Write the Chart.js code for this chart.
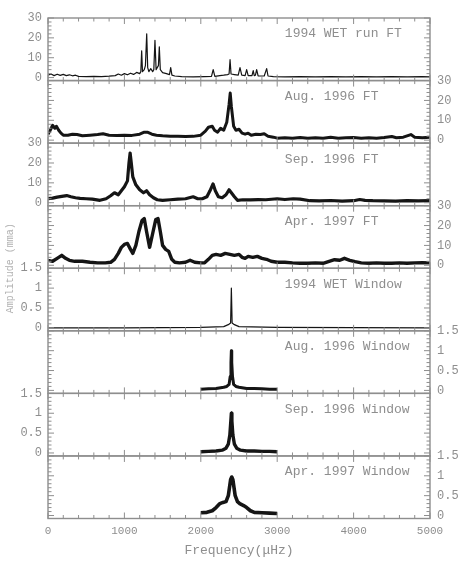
<!DOCTYPE html>
<html><head><meta charset="utf-8">
<script src="https://cdn.jsdelivr.net/npm/chart.js@4.4.1/dist/chart.umd.min.js"></script>
<style>html,body{margin:0;padding:0;background:#fff;}canvas{display:block}</style>
</head><body>
<canvas id="c" width="459" height="561"></canvas>
<script>
// ---------- tick labels / categories ----------
const xTicks = [0, 1000, 2000, 3000, 4000, 5000];
const ftTicks = [0, 10, 20, 30];
const winTicks = [0, 0.5, 1, 1.5];
const panelNames = ['1994 WET run FT', 'Aug. 1996 FT', 'Sep. 1996 FT', 'Apr. 1997 FT',
  '1994 WET Window', 'Aug. 1996 Window', 'Sep. 1996 Window', 'Apr. 1997 Window'];

// ---------- series (frequency in µHz, amplitude) ----------
const wetFtFreq = [0,40,80,120,160,200,240,280,320,360,400,500,600,700,800,880,920,960,1000,1040,1080,1120,1160,1200,1215,1226,1237,1260,1275,1292,1305,1320,1345,1370,1385,1400,1415,1430,1445,1457,1470,1500,1550,1590,1606,1622,1660,1750,1900,2050,2140,2162,2184,2250,2300,2350,2370,2383,2396,2440,2490,2513,2536,2580,2600,2620,2670,2686,2700,2715,2731,2750,2830,2862,2880,2950,3100,3300,3500,3700,3900,4100,4300,4500,4700,4900,5000];
const wetFtAmp  = [1.2,1.8,1.0,1.7,1.1,1.6,1.0,1.4,0.9,1.2,0.6,0.5,0.6,0.5,0.7,1.0,1.8,1.2,2.0,1.4,2.2,1.6,2.6,2.0,3.0,13.5,3.0,4.0,6.0,22.0,5.0,3.0,4.5,3.0,4.0,18.8,4.0,5.0,6.0,15.5,4.0,2.5,2.0,1.5,5.0,1.2,0.8,0.5,0.4,0.5,0.6,4.0,0.6,1.0,1.2,1.5,1.8,9.0,1.8,1.5,1.2,5.0,1.2,1.0,4.0,1.0,1.0,3.5,1.0,1.2,4.0,0.9,0.8,4.5,0.8,0.5,0.4,0.5,0.4,0.5,0.4,0.5,0.4,0.5,0.4,0.5,0.4];

const aug96FtFreq = [0,30,60,90,110,140,170,200,260,320,380,450,550,650,720,800,900,1000,1100,1200,1260,1300,1360,1420,1500,1600,1700,1800,1900,2000,2060,2100,2150,2180,2220,2260,2300,2340,2370,2385,2400,2430,2460,2500,2540,2580,2620,2660,2720,2780,2830,2880,2950,3000,3100,3200,3300,3400,3500,3600,3700,3800,3900,4000,4100,4200,4300,4400,4500,4560,4650,4750,4800,4900,5000];
const aug96FtAmp  = [3.0,5.0,7.5,6.0,7.0,5.0,3.5,2.5,2.5,3.0,2.8,2.2,2.5,2.8,3.2,2.5,2.3,2.5,2.4,3.0,4.0,4.0,3.0,2.5,2.2,2.0,2.0,1.8,1.9,2.5,4.5,6.5,7.0,5.0,4.0,6.0,5.0,9.0,18.0,23.7,17.0,7.0,5.0,5.5,3.5,3.0,3.5,2.5,3.0,2.8,3.2,2.0,1.5,1.0,1.2,1.0,1.3,1.0,1.2,1.0,1.4,1.0,1.2,1.3,1.0,1.2,1.0,1.3,1.8,1.2,1.5,2.8,1.5,1.2,1.5];

const sep96FtFreq = [0,60,120,180,245,300,360,420,500,580,680,760,820,870,920,960,1000,1040,1060,1075,1090,1110,1150,1200,1250,1290,1330,1380,1430,1500,1600,1700,1800,1900,1960,2020,2080,2120,2160,2190,2230,2280,2330,2370,2400,2440,2480,2550,2650,2750,2850,3000,3100,3210,3300,3430,3550,3700,3850,4000,4080,4150,4250,4400,4550,4700,4850,5000];
const sep96FtAmp  = [2.0,2.3,2.8,3.2,3.6,3.0,2.5,2.2,2.0,1.8,1.2,2.0,3.5,5.0,4.0,6.0,8.0,11.0,20.0,25.0,20.0,13.0,9.0,6.5,5.0,6.0,4.0,2.5,1.5,1.2,1.5,1.8,2.0,3.0,2.0,2.0,3.0,6.0,9.5,6.0,3.0,2.5,4.0,6.5,5.0,3.0,1.2,1.5,1.4,1.6,1.5,2.0,1.6,2.0,1.8,1.0,0.9,1.1,0.8,1.0,1.6,1.2,1.0,0.9,0.8,1.0,0.9,1.0];

const apr97FtFreq = [0,60,120,180,230,280,350,450,550,650,750,820,870,920,960,1000,1040,1080,1110,1150,1190,1230,1260,1290,1330,1370,1410,1440,1470,1500,1540,1580,1620,1660,1720,1800,1860,1920,2000,2050,2100,2150,2200,2260,2320,2380,2440,2500,2540,2580,2620,2680,2740,2800,2860,2920,3000,3100,3200,3300,3400,3500,3600,3680,3750,3820,3880,3950,4020,4100,4200,4300,4400,4500,4600,4700,4800,4900,5000];
const apr97FtAmp  = [2.5,2.0,3.5,5.0,3.5,2.5,2.0,2.0,1.5,1.2,1.2,1.5,3.0,6.0,9.0,10.5,11.0,8.0,6.0,10.0,17.0,22.5,23.5,17.0,9.0,16.0,23.0,23.5,17.0,10.0,8.0,7.0,3.0,1.5,1.2,1.5,2.5,1.5,1.2,1.3,3.0,5.0,5.5,5.0,6.0,5.5,5.0,5.5,4.0,3.5,4.5,4.0,4.5,3.5,3.0,2.0,1.5,1.5,1.2,1.0,1.0,1.2,1.0,2.0,2.8,2.5,3.5,2.5,1.8,1.2,1.0,1.2,1.0,1.0,1.2,1.0,1.2,1.3,1.2];

const wetWinFreq = [0,1000,2000,2300,2360,2390,2400,2410,2440,2500,3000,5000];
const wetWinAmp  = [0,0,0.01,0.03,0.08,0.12,1.0,0.12,0.08,0.03,0.01,0];

const aug96WinFreq = [2000,2100,2200,2300,2340,2370,2385,2395,2400,2405,2415,2430,2460,2500,2600,2700,2800,2900,3000];
const aug96WinAmp  = [0.03,0.04,0.05,0.08,0.1,0.15,0.35,0.7,1.0,0.7,0.35,0.15,0.1,0.08,0.05,0.05,0.04,0.03,0.03];

const sep96WinFreq = [2000,2100,2200,2280,2330,2360,2380,2393,2400,2407,2420,2440,2470,2520,2600,2700,2800,2900,3000];
const sep96WinAmp  = [0.03,0.04,0.05,0.07,0.12,0.22,0.45,0.8,1.0,0.8,0.45,0.22,0.12,0.07,0.05,0.05,0.04,0.04,0.03];

const apr97WinFreq = [2000,2080,2150,2200,2250,2290,2330,2360,2390,2405,2420,2450,2480,2510,2560,2600,2650,2700,2800,2900,3000];
const apr97WinAmp  = [0.07,0.08,0.12,0.2,0.3,0.33,0.35,0.5,0.9,0.97,0.9,0.5,0.35,0.3,0.25,0.2,0.12,0.08,0.07,0.06,0.05];

// ---------- build ----------
const seriesFreq = [wetFtFreq, aug96FtFreq, sep96FtFreq, apr97FtFreq, wetWinFreq, aug96WinFreq, sep96WinFreq, apr97WinFreq];
const seriesAmp  = [wetFtAmp, aug96FtAmp, sep96FtAmp, apr97FtAmp, wetWinAmp, aug96WinAmp, sep96WinAmp, apr97WinAmp];
const lineWidths = [1.2, 3.0, 3.2, 3.4, 1.2, 3.0, 3.4, 3.6];

const GRAY = '#8e8e8e';
const MONO = '"Liberation Mono", "DejaVu Sans Mono", monospace';

const datasets = seriesFreq.map((f, i) => ({
  data: f.map((x, j) => ({x: x, y: seriesAmp[i][j]})),
  yAxisID: 'y' + i,
  borderColor: '#151515',
  borderWidth: lineWidths[i],
  borderJoinStyle: 'round',
  pointRadius: 0,
  tension: 0,
  fill: false
}));

const scales = {
  x: {
    type: 'linear', position: 'bottom', min: 0, max: 5000,
    afterBuildTicks: s => { s.ticks = xTicks.map(v => ({value: v})); },
    afterFit: s => { s.height = 42.5; },
    grid: {display: false, drawTicks: false}, border: {display: false},
    ticks: {color: GRAY, font: {family: MONO, size: 11}, padding: 6, maxRotation: 0, autoSkip: false,
            callback: v => String(v)},
    title: {display: true, text: 'Frequency(μHz)', color: GRAY, font: {family: MONO, size: 13}, padding: {top: 0, bottom: 3}}
  }
};
for (let i = 0; i < 8; i++) {
  const isFt = i < 4;
  const tv = isFt ? ftTicks : winTicks;
  const top = tv[tv.length - 1];
  const common = {
    type: 'linear', min: -0.05 * top, max: top,
    stackWeight: 1,
    afterBuildTicks: s => { s.ticks = tv.map(v => ({value: v})); },
    grid: {display: false, drawTicks: false}, border: {display: false}
  };
  scales['y' + i] = Object.assign({}, common, {
    position: 'left', stack: 'L', weight: 8 - i,
    afterFit: s => { s.width = 48; },
    ticks: {display: i % 2 === 0, autoSkip: false, color: GRAY, font: {family: MONO, size: 12}, padding: 6, callback: v => String(v)}
  });
  scales['r' + i] = Object.assign({}, common, {
    position: 'right', stack: 'R', weight: i,
    afterFit: s => { s.width = 29; },
    ticks: {display: i % 2 === 1, autoSkip: false, color: GRAY, font: {family: MONO, size: 12}, padding: 7, callback: v => String(v)}
  });
}

const framePlugin = {
  id: 'frames',
  afterDatasetsDraw(chart) {
    const ctx = chart.ctx;
    const {left, right} = chart.chartArea;
    const xs = chart.scales.x;
    ctx.save();
    ctx.strokeStyle = GRAY;
    ctx.fillStyle = GRAY;
    for (let i = 0; i < 8; i++) {
      const ys = chart.scales['y' + i];
      const top = ys.top, bottom = ys.bottom;
      ctx.lineWidth = 1.4;
      ctx.strokeRect(left, top, right - left, bottom - top);
      ctx.lineWidth = 1;
      ctx.beginPath();
      for (let f = 0; f <= 5000; f += 200) {
        const px = xs.getPixelForValue(f);
        const len = f % 1000 === 0 ? 6 : 3.5;
        ctx.moveTo(px, bottom); ctx.lineTo(px, bottom - len);
        ctx.moveTo(px, top); ctx.lineTo(px, top + len);
      }
      const isFt = i < 4;
      const maxV = isFt ? 30 : 1.5;
      const step = isFt ? 2 : 0.1;
      const major = isFt ? 10 : 0.5;
      for (let k = 0; k * step <= maxV + 1e-9; k++) {
        const v = k * step;
        const py = ys.getPixelForValue(v);
        const isMaj = Math.abs(v / major - Math.round(v / major)) < 1e-6;
        const len = isMaj ? 6 : 3.5;
        ctx.moveTo(left, py); ctx.lineTo(left + len, py);
        ctx.moveTo(right, py); ctx.lineTo(right - len, py);
      }
      ctx.stroke();
      ctx.font = '13px ' + MONO;
      ctx.textBaseline = 'middle';
      ctx.textAlign = 'left';
      ctx.fillText(panelNames[i], left + (right - left) * 0.62, top + 16);
    }
    // vertical axis title
    ctx.fillStyle = '#b0b0b0';
    ctx.font = '10px ' + MONO;
    ctx.textAlign = 'center';
    ctx.translate(10, (chart.chartArea.top + chart.chartArea.bottom) / 2);
    ctx.rotate(-Math.PI / 2);
    ctx.fillText('Amplitude (mma)', 0, 0);
    ctx.restore();
  }
};

new Chart(document.getElementById('c'), {
  type: 'line',
  data: {datasets},
  options: {
    responsive: false, animation: false,
    parsing: false, normalized: true,
    layout: {padding: {top: 18, left: 0, right: 0, bottom: 0}},
    plugins: {legend: {display: false}, tooltip: {enabled: false}},
    scales
  },
  plugins: [framePlugin]
});
</script>
</body></html>
